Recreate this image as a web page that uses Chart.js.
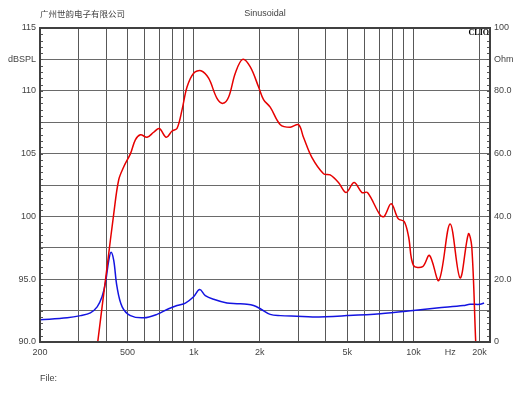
<!DOCTYPE html>
<html>
    <head>
        <title>Sinusoidal</title>
        <meta charset="UTF-8">
        <script src="https://cdn.jsdelivr.net/npm/chart.js@4.4.1/dist/chart.umd.min.js"></script>
        <style>
            body { margin: 0; background: #fff; }
            #wrap { position: relative; width: 530px; height: 398px; }
        </style>
    </head>
    <body>
        <div id="wrap"><canvas id="myChart"></canvas></div>
        <script>
            // SPL curve (left axis, dB)
            var splFreq = [362, 404, 433, 456, 481, 516, 543, 573, 614, 658, 698, 751, 798, 840, 886, 933,
                1000, 1080, 1170, 1277, 1360, 1443, 1547, 1670, 1810, 1975, 2080, 2230, 2480, 2750, 3000,
                3160, 3450, 3900, 4180, 4560, 4940, 5370, 5830, 6180, 7060, 7360, 7920, 8540, 9070, 9500,
                10000, 11020, 11830, 13060, 14680, 16300, 17780, 18420, 19200, 19350];
            var splDb = [89.3, 96.0, 100.2, 102.9, 103.95, 105.0, 106.1, 106.5, 106.3, 106.7, 107.0, 106.3, 106.8, 107.0, 108.5, 110.3,
                111.4, 111.6, 111.0, 109.4, 109.0, 109.5, 111.4, 112.5, 111.9, 110.3, 109.3, 108.7, 107.3, 107.1, 107.3,
                106.3, 104.7, 103.4, 103.3, 102.7, 101.9, 102.7, 101.9, 101.9, 100.1, 100.0, 101.0, 99.8, 99.6, 98.4,
                96.1, 96.0, 96.9, 94.9, 99.4, 95.1, 98.6, 97.6, 90.0, 89.0];

            // impedance curve (right axis, Ohm)
            var impFreq = [200, 266, 306, 339, 364, 383, 397, 411, 421, 433, 448, 473, 516, 593, 681, 770, 840,
                917, 1000, 1065, 1130, 1233, 1418, 1575, 1748, 1874, 2010, 2230, 2480, 2950, 3510, 4980,
                7060, 10000, 12770, 16860, 18080, 20100, 20960];
            var impOhm = [7.1, 7.7, 8.4, 9.3, 11.2, 14.4, 18.8, 26.0, 28.6, 26.0, 17.6, 11.2, 8.4, 7.7, 8.8, 10.6, 11.6,
                12.4, 14.4, 16.7, 14.8, 13.6, 12.4, 12.2, 12.0, 11.6, 10.6, 8.8, 8.4, 8.2, 8.0, 8.4,
                9.0, 10.0, 10.8, 11.6, 12.0, 12.0, 12.4];

            var xTicks = [200, 300, 400, 500, 600, 700, 800, 900, 1000, 2000, 3000, 4000, 5000, 6000, 7000, 8000, 9000, 10000, 14700, 20000];
            var xLabels = ['200', '', '', '500', '', '', '', '', '1k', '2k', '', '', '5k', '', '', '', '', '10k', 'Hz', '20k'];
            var dbTicks = [90, 92.5, 95, 97.5, 100, 102.5, 105, 107.5, 110, 112.5, 115];
            var dbLabels = ['90.0', '', '95.0', '', '100', '', '105', '', '110', 'dBSPL', '115'];
            var ohmTicks = [0, 10, 20, 30, 40, 50, 60, 70, 80, 90, 100];
            var ohmLabels = ['0', '', '20.0', '', '40.0', '', '60.0', '', '80.0', 'Ohm', '100'];

            function pts(xs, ys) {
                return xs.map(function (x, i) { return {x: x, y: ys[i]}; });
            }

            var FONT = '"Liberation Sans", Arial, sans-serif';
            var TXT = '#444';

            var frame = {
                id: 'frame',
                afterDraw: function (chart) {
                    var c = chart.ctx, a = chart.chartArea, y = chart.scales.y, y1 = chart.scales.y1;
                    c.save();
                    // minor ticks
                    c.strokeStyle = '#555';
                    c.lineWidth = 1;
                    c.beginPath();
                    for (var v = 90; v <= 115; v += 0.5) {
                        var py = Math.round(y.getPixelForValue(v)) + 0.5;
                        c.moveTo(a.left, py); c.lineTo(a.left + 3, py);
                        c.moveTo(a.right - 3, py); c.lineTo(a.right, py);
                    }
                    c.stroke();
                    // box
                    c.strokeStyle = '#404040';
                    c.lineWidth = 2;
                    c.strokeRect(a.left, a.top, a.right - a.left, a.bottom - a.top);
                    // texts
                    c.fillStyle = TXT;
                    c.textBaseline = 'middle';
                    c.font = '8.5px "Noto Sans CJK SC", sans-serif';
                    c.textAlign = 'left';
                    c.fillText('广州世韵电子有限公司', 40, 14);
                    c.font = '9px ' + FONT;
                    c.textAlign = 'center';
                    c.fillText('Sinusoidal', 265, 14);
                    c.textAlign = 'left';
                    c.fillText('File:', 40, 379);
                    c.fillStyle = '#000';
                    c.font = 'bold 8px "Liberation Serif", "Times New Roman", serif';
                    c.textAlign = 'right';
                    c.fillText('CLIO', a.right - 1, a.top + 5);
                    c.restore();
                }
            };

            var ctx = document.getElementById('myChart').getContext('2d');
            var chart = new Chart(ctx, {
                type: 'line',
                data: {
                    datasets: [
                        {
                            label: 'SPL',
                            data: pts(splFreq, splDb),
                            yAxisID: 'y',
                            borderColor: 'rgb(230, 0, 0)',
                            borderWidth: 1.5,
                            pointRadius: 0,
                            tension: 0.35,
                            fill: false
                        },
                        {
                            label: 'Impedance',
                            data: pts(impFreq, impOhm),
                            yAxisID: 'y1',
                            borderColor: 'rgb(20, 20, 225)',
                            borderWidth: 1.5,
                            pointRadius: 0,
                            tension: 0.35,
                            fill: false
                        }
                    ]
                },
                options: {
                    responsive: true,
                    maintainAspectRatio: false,
                    animation: false,
                    layout: { padding: { top: 28, left: 0, right: 0, bottom: 0 } },
                    plugins: { legend: { display: false }, tooltip: { enabled: false } },
                    scales: {
                        x: {
                            type: 'logarithmic',
                            min: 200,
                            max: 22300,
                            border: { display: false },
                            grid: {
                                drawTicks: false,
                                color: function (c) {
                                    var v = c.tick && c.tick.value;
                                    return (v === 200 || v === 14700) ? 'transparent' : '#585858';
                                }
                            },
                            afterBuildTicks: function (s) {
                                s.ticks = xTicks.map(function (v) { return {value: v}; });
                            },
                            afterFit: function (s) { s.height = 56; },
                            ticks: {
                                autoSkip: false,
                                maxRotation: 0,
                                padding: 5,
                                color: TXT,
                                font: { family: FONT, size: 9 },
                                callback: function (v, i) { return xLabels[i]; }
                            }
                        },
                        y: {
                            position: 'left',
                            min: 90,
                            max: 115,
                            border: { display: false },
                            grid: { drawTicks: false, color: '#6a6a6a' },
                            afterBuildTicks: function (s) {
                                s.ticks = dbTicks.map(function (v) { return {value: v}; });
                            },
                            afterFit: function (s) { s.width = 40; },
                            ticks: {
                                padding: 4,
                                color: TXT,
                                font: { family: FONT, size: 9 },
                                callback: function (v, i) { return dbLabels[i]; }
                            }
                        },
                        y1: {
                            position: 'right',
                            min: 0,
                            max: 100,
                            border: { display: false },
                            grid: { display: false, drawTicks: false },
                            afterBuildTicks: function (s) {
                                s.ticks = ohmTicks.map(function (v) { return {value: v}; });
                            },
                            afterFit: function (s) { s.width = 40; },
                            ticks: {
                                padding: 4,
                                color: TXT,
                                font: { family: FONT, size: 9 },
                                callback: function (v, i) { return ohmLabels[i]; }
                            }
                        }
                    }
                },
                plugins: [frame]
            });
        </script>
    </body>
</html>
